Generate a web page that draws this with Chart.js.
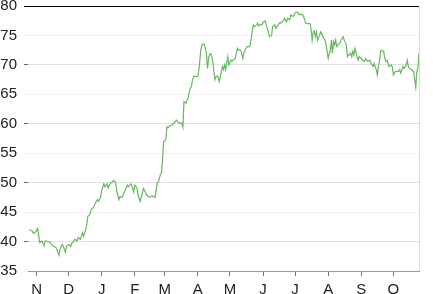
<!DOCTYPE html>
<html>
<head>
<meta charset="utf-8">
<script src="https://cdn.jsdelivr.net/npm/chart.js@4.4.1/dist/chart.umd.min.js"></script>
<style>
  html, body { margin: 0; padding: 0; background: #fff; }
  #wrap { width: 433px; height: 294px; }
</style>
</head>
<body>
<div id="wrap"><canvas id="grafico" width="433" height="294"></canvas></div>
<script>
// dias contados desde el 1 de noviembre
const days = [
  -7, -4, -3, -1, 1, 2, 3, 5, 7, 8, 11, 13, 15, 16, 18, 19, 21, 22, 24, 25, 27, 28,
  30, 32, 33, 35, 36, 38, 39, 41, 43, 44, 46, 47, 48, 50, 51, 53, 55, 57, 58,
  60, 61, 63, 64, 66, 67, 69, 71, 72, 74, 75, 77, 78, 80, 81, 83, 85, 86, 88, 89,
  91, 92, 94, 95, 97, 99, 100, 102, 103, 105, 106, 108, 111, 113, 114, 116, 117, 118, 119,
  121, 122, 123, 125, 127, 128, 130, 131, 133, 134, 136, 137, 138, 140, 141, 142, 143, 144, 145,
  146, 147, 148, 150, 151, 152, 153, 154, 155, 157, 158, 159, 160, 161, 162, 163, 164, 165,
  166, 167, 168, 169, 170, 171, 172, 173, 174, 175, 176, 177, 178, 179, 180, 182, 183, 184,
  186, 187, 188, 189, 191, 192, 193, 194, 196, 197, 199, 200, 201, 202, 203, 204, 206, 207,
  208, 210, 211, 212, 214, 215, 217, 218, 220, 221, 223, 224, 226, 228, 229, 231, 232, 234,
  235, 237, 238, 240, 242, 243, 245, 246, 247, 249, 250, 251, 252, 254, 256, 257, 258, 259,
  260, 261, 262, 263, 265, 266, 268, 270, 271, 272, 273, 274, 275, 276, 277, 278, 279, 280,
  281, 282, 284, 285, 287, 288, 290, 291, 292, 293, 294, 295, 296, 297, 298, 300, 301, 302,
  304, 305, 307, 308, 310, 312, 313, 315, 316, 318, 319, 320, 321, 322, 323, 325, 326, 327,
  328, 329, 330, 332, 333, 334, 336, 337, 339, 340, 341, 343, 344, 345, 346, 347, 348, 349,
  351, 352, 353, 354, 355, 356, 357, 358
]
const prices = [
  42.0, 41.8, 41.4, 41.6, 42.2, 41.0, 39.8, 40.1, 39.3, 40.1, 40.0, 39.8, 39.3, 39.2, 39.0, 38.7, 37.7, 38.7, 39.5, 39.2, 38.2, 39.2,
  39.5, 39.2, 39.7, 40.1, 40.4, 40.1, 40.7, 40.4, 41.5, 40.9, 42.0, 42.9, 44.3, 44.6, 45.4, 45.7, 46.5, 47.1, 46.8,
  47.6, 48.7, 49.8, 49.3, 49.8, 49.1, 49.9, 50.1, 50.4, 50.1, 48.7, 47.1, 47.6, 47.5, 47.9, 48.7, 49.6, 49.3, 49.8, 49.6,
  48.4, 49.6, 49.1, 47.9, 46.8, 48.2, 49.0, 48.4, 47.9, 47.6, 47.5, 47.8, 47.5, 50.0, 50.1, 51.4, 51.7, 53.9, 57.0,
  57.3, 59.5, 59.3, 59.7, 59.8, 60.0, 60.4, 60.6, 60.2, 60.1, 60.1, 59.4, 63.8, 63.5, 64.1, 64.4, 65.5, 66.0, 66.4,
  67.5, 68.0, 68.1, 68.0, 68.1, 69.2, 71.1, 72.8, 73.5, 73.5, 72.8, 72.0, 69.4, 71.1, 71.8, 71.9, 71.4, 70.6,
  68.9, 67.5, 68.0, 68.1, 67.9, 67.2, 67.9, 68.9, 69.7, 69.2, 70.0, 69.2, 70.3, 71.4, 70.0, 70.8, 70.6, 70.8,
  71.1, 72.0, 72.8, 72.5, 72.5, 72.0, 71.1, 72.0, 72.8, 73.1, 73.1, 73.4, 74.5, 75.9, 76.8, 76.5, 76.8, 77.1,
  76.6, 76.9, 76.8, 77.2, 77.5, 76.8, 75.6, 74.8, 75.0, 76.5, 76.8, 76.2, 76.8, 77.2, 77.1, 77.5, 77.9, 77.3,
  77.9, 77.7, 78.5, 78.2, 78.8, 79.0, 78.8, 78.5, 78.6, 78.5, 78.2, 77.6, 77.1, 77.0, 77.0, 76.0, 74.2, 75.6,
  75.8, 74.8, 75.6, 74.2, 75.1, 75.6, 74.8, 74.2, 73.4, 72.3, 71.1, 72.0, 72.3, 74.2, 72.0, 74.0, 73.4, 74.2,
  73.1, 73.4, 73.7, 74.2, 74.8, 74.2, 73.4, 71.4, 71.7, 71.7, 72.0, 71.4, 72.3, 71.7, 72.8, 71.4, 70.8, 71.4,
  71.1, 70.8, 70.6, 71.1, 70.6, 70.8, 70.3, 69.7, 70.3, 69.2, 68.3, 69.7, 70.6, 72.3, 72.5, 72.3, 71.1, 70.6,
  70.8, 70.3, 69.7, 70.0, 69.7, 68.3, 68.9, 68.9, 68.9, 69.2, 68.6, 69.7, 69.4, 69.7, 70.0, 70.8, 69.7, 69.4,
  69.2, 69.0, 68.9, 67.5, 66.2, 68.9, 69.4, 72.0
]

// inicio de cada mes (dias desde el 1 de noviembre) y sus etiquetas
const monthStarts = [0, 30, 61, 92, 120, 151, 181, 212, 242, 273, 304, 334]
const monthLabels = ['N', 'D', 'J', 'F', 'M', 'A', 'M', 'J', 'J', 'A', 'S', 'O']
const yTicks = [35, 40, 45, 50, 55, 60, 65, 70, 75, 80]

const puntos = days.map((d, i) => ({ x: d, y: prices[i] }))

// linea gris en el borde derecho del area del grafico
const bordeDerecho = {
  id: 'bordeDerecho',
  afterDraw(chart) {
    const { ctx, chartArea } = chart
    ctx.save()
    ctx.strokeStyle = '#dcdcdc'
    ctx.lineWidth = 1
    ctx.beginPath()
    ctx.moveTo(Math.round(chartArea.right) + 0.5, chartArea.top)
    ctx.lineTo(Math.round(chartArea.right) + 0.5, chartArea.bottom)
    ctx.stroke()
    ctx.restore()
  }
}

const fuente = { family: '"Liberation Sans", Arial, sans-serif', size: 15 }

new Chart(document.getElementById('grafico'), {
  type: 'line',
  data: {
    datasets: [{
      data: puntos,
      borderColor: 'rgb(104, 184, 96)',
      borderWidth: 1.2,
      pointRadius: 0,
      tension: 0,
      fill: false
    }]
  },
  options: {
    responsive: false,
    devicePixelRatio: 1,
    animation: false,
    layout: { padding: { top: 6, right: 14, left: 0, bottom: 0 } },
    plugins: { legend: { display: false }, tooltip: { enabled: false } },
    scales: {
      x: {
        type: 'linear',
        min: -8,
        max: 358,
        afterBuildTicks: scale => { scale.ticks = monthStarts.map(v => ({ value: v })) },
        afterFit: scale => { scale.height = 23; scale.paddingLeft = 0; scale.paddingRight = 0 },
        ticks: {
          autoSkip: false,
          maxRotation: 0,
          padding: 5,
          color: '#222',
          font: fuente,
          callback: (v) => monthLabels[monthStarts.indexOf(v)]
        },
        grid: { drawOnChartArea: false, tickLength: 5, tickColor: '#777' },
        border: { color: '#999' }
      },
      y: {
        min: 35,
        max: 80,
        afterBuildTicks: scale => { scale.ticks = yTicks.map(v => ({ value: v })) },
        afterFit: scale => { scale.width = 28; scale.paddingTop = 0; scale.paddingBottom = 0 },
        ticks: { padding: 7, color: '#222', font: fuente },
        grid: {
          tickLength: 4,
          color: c => c.tick.value === 80 ? '#000' : (c.tick.value % 10 === 0 ? '#e2e2e2' : '#f3f3f3'),
          tickColor: c => c.tick.value === 80 ? '#000' : (c.tick.value % 10 === 0 ? '#666' : '#f3f3f3')
        },
        border: { display: false }
      }
    }
  },
  plugins: [bordeDerecho]
})
</script>
</body>
</html>
